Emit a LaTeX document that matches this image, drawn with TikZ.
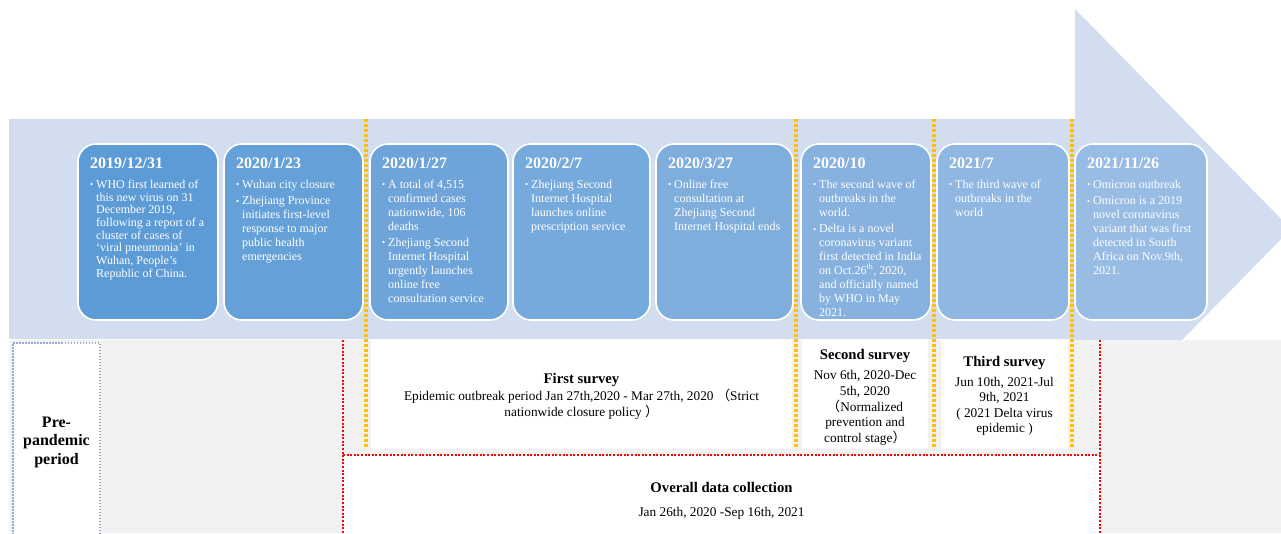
\documentclass[tikz,border=0pt]{standalone}
\usepackage{fontspec}
\setmainfont{Liberation Serif}
\newfontfamily\cjk{Noto Sans CJK SC}

\definecolor{bandblue}{RGB}{210,222,239}
\definecolor{cardstart}{RGB}{93,155,214}
\definecolor{cardend}{RGB}{152,188,227}
\definecolor{panelgray}{RGB}{242,242,242}
\definecolor{surveyorange}{RGB}{255,192,0}
\definecolor{collectred}{RGB}{255,0,0}
\definecolor{preborder}{RGB}{150,172,204}

% bulleted item with hanging indent; lines are broken with \newline
\newcommand{\bitem}[1]{\hangindent=6pt\hangafter=1\noindent\makebox[6pt][l]{\raisebox{0.6pt}{\fontsize{9}{9}\selectfont •}}#1\par}
\newcommand{\itemgap}{\vspace{2.4pt}}
\newcommand{\cardbody}[2]{\parbox[t]{150pt}{\fontsize{12}{#1}\selectfont #2}}

\tikzset{
  card/.style={rounded corners=18pt, draw=white, line width=1.6pt,
    minimum height=176pt, inner sep=0pt, outer sep=0pt, anchor=north west},
  cardtitle/.style={anchor=base west, inner sep=0pt, text=white,
    font=\fontsize{16}{18}\selectfont\bfseries},
  cardtext/.style={anchor=base west, inner sep=0pt, text=white},
  panel/.style={fill=white, inner sep=0pt, outer sep=0pt, anchor=north west},
  surveydiv/.style={draw=surveyorange, line width=3.2pt, dash pattern=on 2.8pt off 2.2pt},
  collectline/.style={draw=collectred, line width=2.4pt, dash pattern=on 2pt off 1.6pt},
  labeltext/.style={anchor=base, inner sep=0pt, font=\fontsize{13.3}{15.6}\selectfont},
}

% one event card: name, left x, width, colour mix, date, line pitch, body
\newcommand{\eventcard}[7]{%
  \node[card, fill=cardend!#4!cardstart, minimum width=#3pt] (#1) at (#2,144) {};
  \node[cardtitle] (#1-date) at (#2+12,168.5) {#5};
  \node[cardtext] (#1-body) at (#2+12,188.5) {\cardbody{#6}{#7}};
}

\begin{document}
\begin{tikzpicture}[x=1pt,y=-1pt]
\useasboundingbox (0,0) rectangle (1281,533);
\clip (0,0) rectangle (1281,533);

% timeline arrow
\fill[bandblue] (9,119) -- (1075,119) -- (1075,9) -- (1291,229) -- (1075,449)
  -- (1075,339) -- (9,339) -- cycle;

% lower panel with the survey periods
\fill[panelgray] (9,340) rectangle (1281,533);
\node[panel, minimum width=87pt, minimum height=200pt,
  draw=preborder, line width=1.5pt, dash pattern=on 1.5pt off 1.5pt] (pre) at (13,343) {};
\node[panel, minimum width=421pt, minimum height=109pt] (first) at (371,340) {};
\node[panel, minimum width=126pt, minimum height=109pt] (second) at (802,340) {};
\node[panel, minimum width=127pt, minimum height=109pt] (third) at (941,340) {};
\node[panel, minimum width=757pt, minimum height=90pt] (overall) at (343,455) {};

% overall data collection frame
\coordinate (oc-nw) at (343,340);
\coordinate (oc-w)  at (343,455);
\coordinate (oc-sw) at (343,540);
\coordinate (oc-ne) at (1100,340);
\coordinate (oc-e)  at (1100,455);
\coordinate (oc-se) at (1100,540);
\draw[collectline] (oc-nw) -- (oc-sw);
\draw[collectline] (oc-w) -- (oc-e);
\draw[collectline] (oc-ne) -- (oc-se);

% survey dividers
\foreach \x [count=\i] in {366,796,934,1072} {
  \coordinate (div\i-top) at (\x,119);
  \coordinate (div\i-bot) at (\x,449);
  \draw[surveydiv] (div\i-top) -- (div\i-bot);
}

% event cards
\eventcard{c1}{78}{140}{0}{2019/12/31}{12.67}{%
  \bitem{WHO first learned of\newline this new virus on 31\newline December 2019,\newline following a report of a\newline cluster of cases of\newline ‘viral pneumonia’ in\newline Wuhan, People’s\newline Republic of China.}}
\eventcard{c2}{224}{139}{14}{2020/1/23}{13.9}{%
  \bitem{Wuhan city closure}\itemgap
  \bitem{Zhejiang Province\newline initiates first-level\newline response to major\newline public health\newline emergencies}}
\eventcard{c3}{370}{138}{28}{2020/1/27}{13.9}{%
  \bitem{A total of 4,515\newline confirmed cases\newline nationwide, 106\newline deaths}\itemgap
  \bitem{Zhejiang Second\newline Internet Hospital\newline urgently launches\newline online free\newline consultation service}}
\eventcard{c4}{513}{137}{43}{2020/2/7}{13.9}{%
  \bitem{Zhejiang Second\newline Internet Hospital\newline launches online\newline prescription service}}
\eventcard{c5}{656}{137}{57}{2020/3/27}{13.9}{%
  \bitem{Online free\newline consultation at\newline Zhejiang Second\newline Internet Hospital ends}}
\eventcard{c6}{801}{130}{71}{2020/10}{13.9}{%
  \bitem{The second wave of\newline outbreaks in the\newline world.}\itemgap
  \bitem{Delta is a novel\newline coronavirus variant\newline first detected in India\newline on Oct.26\textsuperscript{th}, 2020,\newline and officially named\newline by WHO in May\newline 2021.}}
\eventcard{c7}{937}{132}{86}{2021/7}{13.9}{%
  \bitem{The third wave of\newline outbreaks in the\newline world}}
\eventcard{c8}{1075}{132}{100}{2021/11/26}{13.9}{%
  \bitem{Omicron outbreak}\itemgap
  \bitem{Omicron is a 2019\newline novel coronavirus\newline variant that was first\newline detected in South\newline Africa on Nov.9th,\newline 2021.}}

% period labels
\node[anchor=base, inner sep=0pt, font=\fontsize{16}{18.5}\selectfont\bfseries] (pre-label)
  at (56.5,427) {\begin{tabular}[t]{@{}c@{}}Pre-\\pandemic\\period\end{tabular}};
\node[labeltext, font=\fontsize{13.3}{16.5}\selectfont] (first-label) at (581.5,383)
  {\begin{tabular}[t]{@{}c@{}}{\fontsize{14.7}{16}\selectfont\bfseries First survey}\\[0.5pt]
   Epidemic outbreak period Jan 27th,2020 - Mar 27th, 2020 {\cjk （}Strict\\
   nationwide closure policy {\cjk ）}\end{tabular}};
\node[labeltext] (second-label) at (865,359.5)
  {\begin{tabular}[t]{@{}c@{}}{\fontsize{14.7}{16}\selectfont\bfseries Second survey}\\[4.4pt]
   Nov 6th, 2020-Dec\\5th, 2020\\{\cjk （}Normalized\\prevention and\\control stage{\cjk ）}\end{tabular}};
\node[labeltext] (third-label) at (1004.5,366.5)
  {\begin{tabular}[t]{@{}c@{}}{\fontsize{14.7}{16}\selectfont\bfseries Third survey}\\[3.9pt]
   Jun 10th, 2021-Jul\\9th, 2021\\( 2021 Delta virus\\epidemic )\end{tabular}};
\node[labeltext] (overall-label) at (721.5,492)
  {\begin{tabular}[t]{@{}c@{}}{\fontsize{14.7}{16}\selectfont\bfseries Overall data collection}\\[8.4pt]
   Jan 26th, 2020 -Sep 16th, 2021\end{tabular}};
\end{tikzpicture}
\end{document}
